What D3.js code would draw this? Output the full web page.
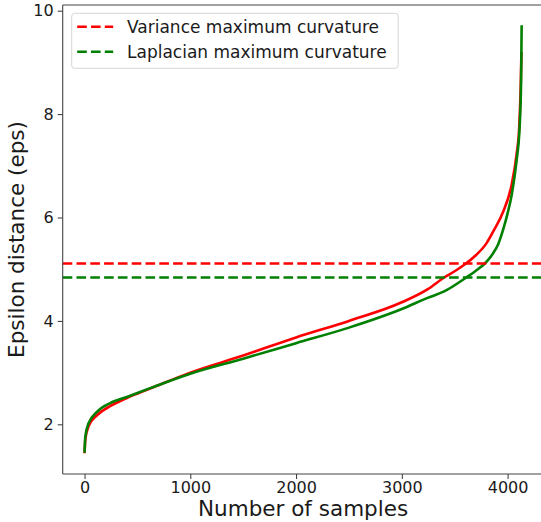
<!DOCTYPE html>
<html>
<head>
<meta charset="utf-8">
<script src="https://cdn.jsdelivr.net/npm/d3@7"></script>
<style>
  body { margin: 0; background: #fff; }
  text { font-family: "DejaVu Sans", sans-serif; fill: #1a1a1a; }
</style>
</head>
<body>
<div class="chart"></div>
<script>
var width = 541;
var height = 522;

// variance curve (red)
var varianceSamples = [0, 8, 40, 120, 250, 400, 620, 1000, 1500, 2000, 2500, 3000, 3250, 3400, 3500, 3600, 3700, 3800, 3870, 3960, 4040, 4085, 4110, 4122, 4128, 4131];
var varianceEps = [1.44, 1.72, 1.97, 2.18, 2.36, 2.51, 2.69, 3.0, 3.33, 3.68, 4.0, 4.36, 4.62, 4.84, 4.96, 5.1, 5.27, 5.5, 5.75, 6.12, 6.65, 7.22, 7.75, 8.4, 8.9, 9.2];

// laplacian curve (green)
var laplacianSamples = [0, 7, 38, 117, 243, 400, 620, 1000, 1500, 2000, 2500, 3000, 3250, 3400, 3610, 3700, 3790, 3860, 3910, 3960, 4000, 4040, 4085, 4114, 4128, 4131, 4133];
var laplacianEps = [1.45, 1.76, 2.02, 2.24, 2.41, 2.53, 2.7, 2.98, 3.27, 3.57, 3.87, 4.23, 4.45, 4.57, 4.84, 4.97, 5.12, 5.3, 5.48, 5.78, 6.08, 6.45, 7.1, 7.76, 8.66, 9.3, 9.72];

// max curvature thresholds
var thresholdNames = ["Variance maximum curvature", "Laplacian maximum curvature"];
var thresholdValues = [5.11, 4.84];
var thresholdColors = ["#ff0000", "#008000"];

var xTicks = [0, 1000, 2000, 3000, 4000];
var yTicks = [2, 4, 6, 8, 10];

var plot = { left: 62.7, right: 543.5, top: 5, bottom: 474 };

var svg = d3
  .select(".chart")
  .append("svg")
  .attr("width", width)
  .attr("height", height);

var x = d3.scaleLinear().domain([-206.6, 4339.6]).range([plot.left, plot.right]);
var y = d3.scaleLinear().domain([1.039, 10.11]).range([plot.bottom, plot.top]);

var line = d3
  .line()
  .x((d) => x(d[0]))
  .y((d) => y(d[1]))
  .curve(d3.curveMonotoneX);

var series = [
  { color: "#ff0000", points: d3.zip(varianceSamples, varianceEps) },
  { color: "#008000", points: d3.zip(laplacianSamples, laplacianEps) }
];

svg
  .append("g")
  .attr("class", "curves")
  .selectAll("path")
  .data(series)
  .enter()
  .append("path")
  .attr("d", (d) => line(d.points))
  .attr("fill", "none")
  .attr("stroke", (d) => d.color)
  .attr("stroke-width", 2.6)
  .attr("stroke-linejoin", "round");

// horizontal dashed lines
svg
  .append("g")
  .attr("class", "thresholds")
  .selectAll("line")
  .data(thresholdValues)
  .enter()
  .append("line")
  .attr("x1", plot.left)
  .attr("x2", plot.right)
  .attr("y1", (d) => y(d))
  .attr("y2", (d) => y(d))
  .attr("stroke", (d, i) => thresholdColors[i])
  .attr("stroke-width", 2.6)
  .attr("stroke-dasharray", "9.6,4.2");

// axes
var xAxis = d3.axisBottom(x).tickValues(xTicks).tickFormat(d3.format("d")).tickSize(5).tickPadding(3).tickSizeOuter(0);
var yAxis = d3.axisLeft(y).tickValues(yTicks).tickFormat(d3.format("d")).tickSize(5).tickPadding(4).tickSizeOuter(0);

svg
  .append("g")
  .attr("class", "x axis")
  .attr("transform", `translate(0,${plot.bottom})`)
  .call(xAxis);

svg
  .append("g")
  .attr("class", "y axis")
  .attr("transform", `translate(${plot.left},0)`)
  .call(yAxis);

svg.selectAll(".axis .domain").remove();
svg.selectAll(".axis line").attr("stroke", "#333").attr("stroke-width", 1);
svg
  .selectAll(".axis text")
  .style("font-family", "DejaVu Sans")
  .style("font-size", "16px")
  .attr("fill", "#1a1a1a");

// spines
var spines = svg.append("g").attr("class", "spines").attr("stroke", "#444").attr("stroke-width", 1.1);
spines.append("line").attr("x1", plot.left).attr("x2", plot.left).attr("y1", plot.top).attr("y2", plot.bottom);
spines.append("line").attr("x1", plot.left).attr("x2", plot.right).attr("y1", plot.bottom).attr("y2", plot.bottom);
spines.append("line").attr("x1", plot.left).attr("x2", plot.right).attr("y1", plot.top).attr("y2", plot.top);

// axis titles
svg
  .append("text")
  .attr("x", (plot.left + plot.right) / 2)
  .attr("y", 516)
  .attr("text-anchor", "middle")
  .style("font-size", "21.5px")
  .text("Number of samples");

svg
  .append("text")
  .attr("transform", `translate(24,${(plot.top + plot.bottom) / 2}) rotate(-90)`)
  .attr("text-anchor", "middle")
  .style("font-size", "21.5px")
  .text("Epsilon distance (eps)");

// legend
var legend = svg.append("g").attr("class", "legend").attr("transform", "translate(71.7,13.3)");

legend
  .append("rect")
  .attr("width", 326.5)
  .attr("height", 55)
  .attr("rx", 3)
  .attr("fill", "white")
  .attr("fill-opacity", 0.8)
  .attr("stroke", "#d6d6d6")
  .attr("stroke-width", 1);

var items = legend
  .selectAll(".item")
  .data(thresholdNames)
  .enter()
  .append("g")
  .attr("class", "item")
  .attr("transform", (d, i) => `translate(0,${13.4 + i * 25})`);

items
  .append("line")
  .attr("x1", 5.5)
  .attr("x2", 41.5)
  .attr("stroke", (d, i) => thresholdColors[i])
  .attr("stroke-width", 2.6)
  .attr("stroke-dasharray", "9.6,4.2");

items
  .append("text")
  .attr("x", 55.3)
  .attr("dy", "0.36em")
  .style("font-size", "17px")
  .text((d) => d);
</script>
</body>
</html>
